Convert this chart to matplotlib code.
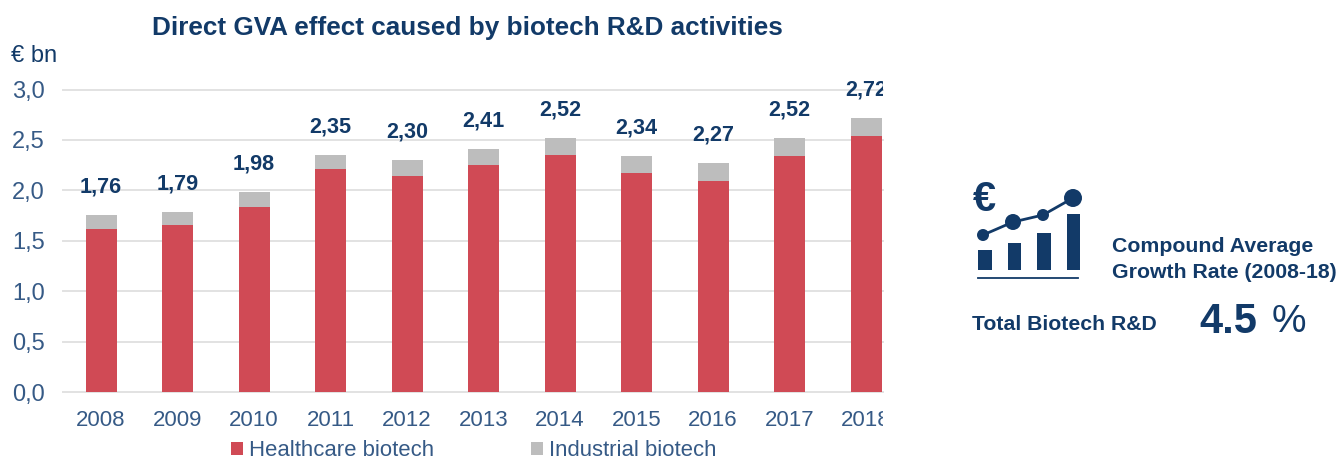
import matplotlib
matplotlib.use("Agg")
import matplotlib.pyplot as plt
from matplotlib.patches import Rectangle, Circle
from matplotlib.transforms import Bbox

W, H = 1344, 459
NAVY = "#123a68"
TICK = "#365a86"
RED = "#d04a55"
GREY = "#bdbdbd"
GRID = "#e2e2e2"

years = ["2008", "2009", "2010", "2011", "2012", "2013", "2014", "2015", "2016", "2017", "2018"]
healthcare = [1.62, 1.66, 1.83, 2.21, 2.14, 2.25, 2.35, 2.17, 2.09, 2.34, 2.54]
totals = [1.76, 1.79, 1.98, 2.35, 2.30, 2.41, 2.52, 2.34, 2.27, 2.52, 2.72]
industrial = [t - h for t, h in zip(totals, healthcare)]
total_labels = ["1,76", "1,79", "1,98", "2,35", "2,30", "2,41", "2,52", "2,34", "2,27", "2,52", "2,72"]
y_ticks = [0.0, 0.5, 1.0, 1.5, 2.0, 2.5, 3.0]
y_labels = ["0,0", "0,5", "1,0", "1,5", "2,0", "2,5", "3,0"]

plt.rcParams["font.family"] = ["Liberation Sans", "DejaVu Sans"]
fig = plt.figure(figsize=(W / 100, H / 100), dpi=100)

AX_L, AX_R, AX_T, AX_B = 63, 883, 89.5, 392
ax = fig.add_axes([AX_L / W, 1 - AX_B / H, (AX_R - AX_L) / W, (AX_B - AX_T) / H])
x = list(range(len(years)))
b1 = ax.bar(x, healthcare, width=0.405, color=RED, label="Healthcare biotech", zorder=3)
b2 = ax.bar(x, industrial, width=0.405, bottom=healthcare, color=GREY, label="Industrial biotech", zorder=3)
ax.set_xlim(-0.497, 10.222)
ax.set_ylim(0, 3)
ax.set_yticks(y_ticks, y_labels)
ax.set_xticks(x, years)
ax.grid(axis="y", color=GRID, lw=1.4, zorder=0, clip_on=False)
ax.set_axisbelow(True)
for s in ["top", "right", "left"]:
    ax.spines[s].set_visible(False)
ax.spines["bottom"].set_color(GRID)
ax.spines["bottom"].set_linewidth(1.4)
ax.tick_params(axis="x", length=0, labelcolor=TICK, labelsize=16, pad=13)
ax.tick_params(axis="y", length=0, labelcolor=TICK, labelsize=17, pad=13)

clip = Bbox([[0, 0], [AX_R, H]])
for xi, t, lab in zip(x, totals, total_labels):
    tx = ax.annotate(lab, (xi, t), xytext=(0, 12.5), textcoords="offset points", ha="center", va="bottom",
                     color=NAVY, fontsize=15.6, fontweight="bold", zorder=5, annotation_clip=False)
    tx.set_clip_on(True)
    tx.set_clip_box(clip)
for lab in ax.get_xticklabels():
    lab.set_clip_on(True)
    lab.set_clip_box(clip)


def ftext(px, py, s, **kw):
    fig.text(px / W, 1 - py / H, s, **kw)


ftext(467, 28, "Direct GVA effect caused by biotech R&D activities", ha="center", va="center",
      color=NAVY, fontsize=18.8, fontweight="bold")
ftext(11, 56, "€ bn", ha="left", va="center", color=NAVY, fontsize=17)

leg = ax.legend(handles=[b1, b2], loc="center left", bbox_to_anchor=(231 / W, 1 - 451 / H),
                bbox_transform=fig.transFigure, ncol=2, frameon=False, fontsize=15.9,
                handlelength=0.55, handleheight=0.55, handletextpad=0.28, columnspacing=4.35,
                borderpad=0, borderaxespad=0, labelcolor=TICK)

# Icon and side panel
icon = fig.add_axes([0, 0, 1, 1], facecolor="none")
icon.set_xlim(0, W)
icon.set_ylim(H, 0)
icon.axis("off")
for (l, r, t) in [(978, 992, 250), (1008, 1021, 243), (1037, 1051, 233), (1067, 1080, 214)]:
    icon.add_patch(Rectangle((l, t), r - l, 270 - t, color=NAVY, lw=0))
icon.plot([978, 1078], [278, 278], color=NAVY, lw=1.3)
pts = [(983, 235, 6), (1013, 222, 8), (1043, 215, 6), (1073, 198, 9)]
icon.plot([p[0] for p in pts], [p[1] for p in pts], color=NAVY, lw=2)
for px, py, r in pts:
    icon.add_patch(Circle((px, py), r, color=NAVY, lw=0))
ftext(984, 200, "€", ha="center", va="center", color=NAVY, fontsize=30, fontweight="bold")
ftext(1112, 247, "Compound Average", ha="left", va="center", color=NAVY, fontsize=15.3, fontweight="bold")
ftext(1112, 273, "Growth Rate (2008-18)", ha="left", va="center", color=NAVY, fontsize=15.3, fontweight="bold")
ftext(972, 325, "Total Biotech R&D", ha="left", va="center", color=NAVY, fontsize=15.3, fontweight="bold")
ftext(1199, 322, "4.5", ha="left", va="center", color=NAVY, fontsize=30, fontweight="bold")
ftext(1272, 322, "%", ha="left", va="center", color=NAVY, fontsize=28)

fig.savefig("out.png", dpi=100)
